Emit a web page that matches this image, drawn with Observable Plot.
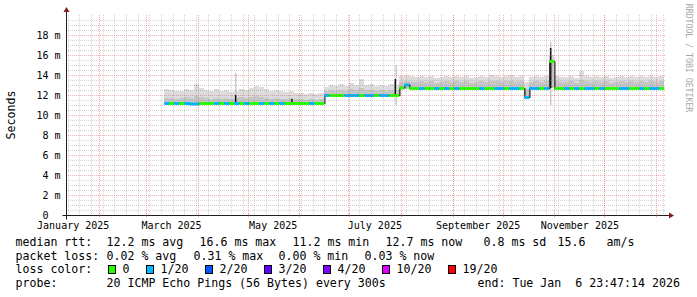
<!DOCTYPE html>
<html><head><meta charset="utf-8">
<script src="https://cdn.jsdelivr.net/npm/d3@7"></script>
<script src="https://cdn.jsdelivr.net/npm/@observablehq/plot@0.6"></script>
<style>
body{margin:0;background:#fff;}
#wrap{width:697px;height:297px;overflow:hidden;}
</style></head><body><div id="wrap"></div>
<script>
// ---------- data ----------
const chartStart = "2025-01-11T23:47:14Z";
const chartEnd = "2026-01-06T23:47:14Z";
const sampleStart = "2025-03-12T00:00:00Z";
const sampleStepDays = 3;

// median rtt (ms) per sample
const median = [
 11.2,11.2,11.2,11.2,11.2,11.15,11.15,11.2,11.2,11.2,
 11.2,11.2,11.2,11.2,11.2,11.2,11.2,11.2,11.2,11.2,
 11.2,11.2,11.2,11.2,11.2,11.2,11.2,11.2,11.2,11.2,
 11.2,11.2,12.0,12.0,12.0,12.0,12.0,12.0,12.0,12.0,
 12.0,12.0,12.0,12.0,12.0,12.0,12.0,12.75,13.05,12.7,
 12.7,12.7,12.7,12.7,12.7,12.7,12.7,12.7,12.7,12.7,
 12.7,12.7,12.7,12.7,12.7,12.7,12.7,12.7,12.7,12.7,
 12.7,12.7,11.8,12.7,12.7,12.7,12.7,15.4,12.7,12.7,
 12.7,12.7,12.7,12.7,12.7,12.7,12.7,12.7,12.7,12.7,
 12.7,12.7,12.7,12.7,12.7,12.7,12.7,12.7,12.7,12.7
];
// loss bucket per sample (index into lossLabels)
const loss = [
 1,0,1,0,1,1,1,0,0,0,
 1,0,1,0,1,0,1,0,0,1,
 0,1,0,1,0,0,0,0,0,1,
 0,0,1,0,0,0,1,1,1,0,
 1,1,0,1,1,0,0,0,1,0,
 0,1,0,0,1,0,1,0,1,0,
 0,0,0,1,0,0,1,1,0,1,
 1,0,1,1,1,0,1,0,0,0,
 1,0,1,0,1,1,0,1,0,0,
 0,1,1,0,0,1,0,1,1,0
];
// smoke: upper edge, darker inner band edge, lower edge (ms)
const smokeTop = [
 12.6,12.5,12.4,12.4,12.6,12.5,13.1,12.7,12.5,12.4,
 12.6,12.4,12.5,12.3,12.4,12.6,12.5,12.7,12.9,12.8,
 12.6,12.4,12.5,12.4,12.3,12.4,12.2,12.2,12.1,12.2,
 12.1,12.2,12.8,13.0,12.9,13.1,12.9,13.2,13.0,13.6,
 13.0,13.1,12.9,13.0,12.9,13.1,13.0,13.9,14.0,13.9,
 13.8,13.9,13.8,13.9,13.7,13.8,13.9,13.8,13.9,13.8,
 13.9,13.7,13.8,13.9,13.8,14.0,13.9,13.8,13.9,14.0,
 13.8,13.9,13.3,13.8,13.9,13.8,13.9,16.0,13.9,13.8,
 13.8,13.9,13.7,14.4,13.9,13.8,13.9,13.8,13.9,13.7,
 13.8,13.9,13.8,13.9,13.8,13.9,13.8,13.9,13.8,13.9
];
const smokeMid = [
 11.7,11.7,11.6,11.7,11.8,11.7,11.9,11.8,11.7,11.6,
 11.7,11.6,11.7,11.6,11.7,11.8,11.7,11.8,11.9,11.8,
 11.7,11.6,11.7,11.6,11.6,11.7,11.6,11.6,11.5,11.6,
 11.5,11.6,12.4,12.5,12.4,12.5,12.4,12.6,12.5,12.7,
 12.5,12.5,12.4,12.5,12.4,12.5,12.5,13.3,13.4,13.3,
 13.3,13.4,13.3,13.4,13.2,13.3,13.4,13.3,13.4,13.3,
 13.4,13.2,13.3,13.4,13.3,13.4,13.4,13.3,13.4,13.4,
 13.3,13.4,12.6,13.3,13.4,13.3,13.4,15.6,13.4,13.3,
 13.3,13.4,13.2,13.5,13.4,13.3,13.4,13.3,13.4,13.2,
 13.3,13.4,13.3,13.4,13.3,13.4,13.3,13.4,13.3,13.4
];
const smokeLow = [
 11.1,11.1,11.1,11.1,11.1,11.05,11.05,11.1,11.1,11.1,
 11.1,11.1,11.1,11.1,11.1,11.1,11.1,11.1,11.1,11.1,
 11.1,11.1,11.1,11.1,11.1,11.1,11.1,11.1,11.1,11.1,
 11.1,11.1,11.9,11.9,11.9,11.9,11.9,11.9,11.9,11.9,
 11.9,11.9,11.9,11.9,11.9,11.9,11.9,12.6,12.6,12.6,
 12.6,12.6,12.6,12.6,12.6,12.6,12.6,12.6,12.6,12.6,
 12.6,12.6,12.6,12.6,12.6,12.6,12.6,12.6,12.6,12.6,
 12.6,12.6,11.7,12.6,12.6,12.6,12.6,12.7,12.6,12.6,
 12.6,12.6,12.6,12.6,12.6,12.6,12.6,12.6,12.6,12.6,
 12.6,12.6,12.6,12.6,12.6,12.6,12.6,12.6,12.6,12.6
];
// narrow spikes (black median jumps) and smoke spikes
const spikeDates = ["2025-04-23T12:00:00Z","2025-05-27T06:00:00Z","2025-07-28T06:00:00Z","2025-10-29T12:00:00Z"];
const spikeFrom  = [11.2, 11.2, 12.0, 12.7];
const spikeTo    = [12.0, 11.6, 13.6, 16.7];
const smokeSpikeDates = ["2025-04-23T12:00:00Z","2025-07-28T18:00:00Z","2025-10-29T12:00:00Z"];
const smokeSpikeTo    = [14.2, 15.0, 17.3];

const lossLabels = ["0","1/20","2/20","3/20","4/20","10/20","19/20"];
const lossColors = ["#26ff00","#00b8ff","#0059ff","#5e00ff","#7e00ff","#dd00ff","#ff0000"];

const yTicks = [0,2,4,6,8,10,12,14,16,18];
const yTickLabels = ["0\u00a0\u00a0","2 m","4 m","6 m","8 m","10 m","12 m","14 m","16 m","18 m"];
const xLabelDates = ["2025-01-16","2025-03-16","2025-05-16","2025-07-16","2025-09-16","2025-11-16"];
const xLabels = ["January 2025","March 2025","May 2025","July 2025","September 2025","November 2025"];

const statLine1 = [["median rtt:",16],["12.2 ms avg",107],["16.6 ms max",200],["11.2 ms min",293],["12.7 ms now",386],["0.8 ms sd",484],["15.6",558],["am/s",607]];
const statLine2 = [["packet loss:",16],["0.02 % avg",107],["0.31 % max",194],["0.00 % min",279],["0.03 % now",365]];
const probeLine = [["probe:",16],["20 ICMP Echo Pings (56 Bytes) every 300s",107],["end: Tue Jan  6 23:47:14 2026",478]];

// ---------- build ----------
const DAY = 864e5;
const t0 = new Date(sampleStart).getTime();
const samples = median.map((m, i) => ({
  d0: new Date(t0 + i * sampleStepDays * DAY),
  d1: new Date(t0 + (i + 1) * sampleStepDays * DAY),
  median: m, loss: loss[i], color: lossColors[loss[i]],
  top: smokeTop[i], mid: smokeMid[i], low: smokeLow[i]
}));
const spikes = spikeDates.map((d, i) => ({d: new Date(d), lo: spikeFrom[i], hi: spikeTo[i]}));
const smokeSpikes = smokeSpikeDates.map((d, i) => ({d: new Date(d), lo: 11.0, hi: smokeSpikeTo[i]}));

const xs = new Date(chartStart), xe = new Date(chartEnd);
const months = d3.utcMonth.range(xs, xe);
const weeks = d3.utcMonday.range(xs, xe);
const minorY = d3.range(0.5, 20.01, 0.5).filter(v => v % 2 !== 0);
const majorY = yTicks.slice(1);
const yLab = new Map(yTicks.map((v, i) => [v, yTickLabels[i]]));
const xLab = new Map(xLabelDates.map((d, i) => [new Date(d).getTime(), xLabels[i]]));

const gridC = "rgba(143,143,143,0.38)";
const mgridC = "rgba(222,79,79,0.45)";

const chart = Plot.plot({
  width: 697, height: 297,
  marginLeft: 66, marginRight: 31, marginTop: 15, marginBottom: 82,
  style: {fontFamily: "'DejaVu Sans Mono', monospace", fontSize: "10px", background: "#ffffff", color: "#000"},
  x: {type: "utc", domain: [xs, xe], axis: null},
  y: {domain: [0, 20], axis: null},
  color: {type: "identity"},
  marks: [
    Plot.rect(samples, {x1: "d0", x2: "d1", y1: "low", y2: "top", fill: "#dcdcdc", shapeRendering: "crispEdges"}),
    Plot.rect(samples, {x1: "d0", x2: "d1", y1: "low", y2: "mid", fill: "#c6c6c6", shapeRendering: "crispEdges"}),
    Plot.ruleX(smokeSpikes, {x: "d", y1: "lo", y2: "hi", stroke: "#c8c8c8", strokeWidth: 1.5}),
    Plot.line(samples, {x: "d0", y: "median", curve: "step-after", stroke: "#111", strokeWidth: 1.2}),
    Plot.ruleX(spikes, {x: "d", y1: "lo", y2: "hi", stroke: "#111", strokeWidth: 1.5}),
    Plot.ruleY(samples, {x1: "d0", x2: "d1", y: "median", stroke: "color", strokeWidth: 3}),
    Plot.ruleY(minorY, {stroke: gridC, strokeDasharray: "1,1", shapeRendering: "crispEdges"}),
    Plot.ruleX(weeks, {stroke: gridC, strokeDasharray: "1,1", shapeRendering: "crispEdges"}),
    Plot.ruleY(majorY, {stroke: mgridC, strokeDasharray: "1,1", shapeRendering: "crispEdges"}),
    Plot.ruleX(months, {stroke: mgridC, strokeDasharray: "1,1", shapeRendering: "crispEdges"}),
    Plot.axisY({ticks: yTicks, tickFormat: d => yLab.get(d), tickSize: 0, tickPadding: 6, fontSize: 10}),
    Plot.axisX({ticks: xLabelDates.map(d => new Date(d)), tickFormat: d => xLab.get(+d), tickSize: 0, tickPadding: 6, fontSize: 10})
  ]
});

const svg = d3.select(chart);
const X = chart.scale("x"), Y = chart.scale("y");
const ax0 = Math.round(X.apply(xs)) + 0.5, ay0 = Math.round(Y.apply(0)) + 0.5;
const axisC = "#1f1f1f", arrowC = "#801f1f";
svg.append("line").attr("x1", ax0 - 4).attr("x2", X.apply(xe) + 3).attr("y1", ay0).attr("y2", ay0).attr("stroke", axisC);
svg.append("line").attr("x1", ax0).attr("x2", ax0).attr("y1", ay0 + 4).attr("y2", Y.apply(20) - 3).attr("stroke", axisC);
const xr = X.apply(xe) + 3;
svg.append("path").attr("d", `M${xr},${ay0-3}L${xr+5},${ay0}L${xr},${ay0+3}Z`).attr("fill", arrowC);
const yt = Y.apply(20) - 3;
svg.append("path").attr("d", `M${ax0-3},${yt}L${ax0},${yt-5}L${ax0+3},${yt}Z`).attr("fill", arrowC);
months.forEach(m => {
  const x = Math.round(X.apply(m)) + 0.5;
  svg.append("line").attr("x1", x).attr("x2", x).attr("y1", ay0 - 2).attr("y2", ay0 + 2).attr("stroke", mgridC);
});
const g = svg.append("g").attr("text-anchor", "start").attr("font-family", "'DejaVu Sans Mono', monospace").attr("fill", "#000");
g.append("text").attr("text-anchor", "middle").attr("transform", `translate(15,${(Y.apply(0)+Y.apply(20))/2}) rotate(-90)`)
  .attr("font-size", "11.6px").text("Seconds");
g.append("text").attr("text-anchor", "middle").attr("transform", `translate(685.5,58) rotate(90)`)
  .attr("font-size", "8.2px").attr("fill", "#a8a8a8").text("RRDTOOL / TOBI OETIKER");
const lf = "11.6px";
function row(items, y) {
  items.forEach(([t, x]) => g.append("text").attr("x", x - 0.5).attr("y", y).attr("font-size", lf)
    .attr("text-anchor", "start").style("white-space", "pre").text(t));
}
row(statLine1, 245.5);
row(statLine2, 259.5);
row([["loss color:", 16]], 273.3);
row(probeLine, 287);
let bx = 108;
lossLabels.forEach((lab, i) => {
  g.append("rect").attr("x", bx + 0.5).attr("y", 265.5).attr("width", 7).attr("height", 8)
    .attr("fill", lossColors[i]).attr("stroke", "#000");
  g.append("text").attr("x", bx + 14.5).attr("y", 273.3).attr("font-size", lf).attr("text-anchor", "start").text(lab);
  bx += 15 + lab.length * 7 + 16;
});
document.getElementById("wrap").appendChild(chart);
</script></body></html>
